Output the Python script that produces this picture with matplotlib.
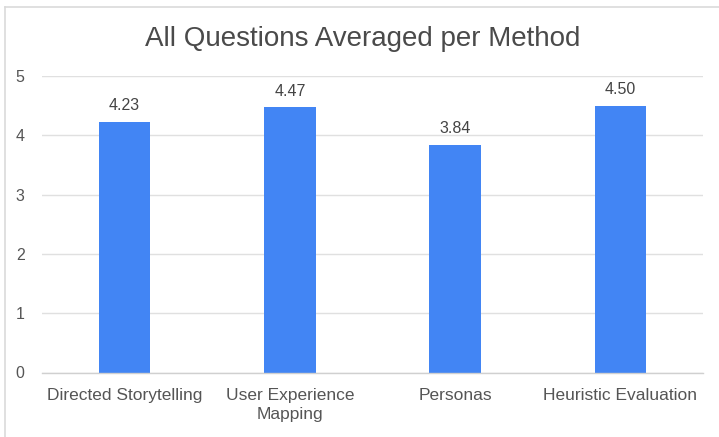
import matplotlib
matplotlib.use("Agg")
import matplotlib.pyplot as plt
from matplotlib.lines import Line2D

categories = ["Directed Storytelling", "User Experience\nMapping", "Personas", "Heuristic Evaluation"]
values = [4.23, 4.47, 3.84, 4.50]
value_labels = ["4.23", "4.47", "3.84", "4.50"]
yticks = [0, 1, 2, 3, 4, 5]
title = "All Questions Averaged per Method"

plt.rcParams['font.family'] = ['Liberation Sans', 'DejaVu Sans']

W, H = 719, 437
fig = plt.figure(figsize=(W / 100, H / 100), dpi=100)
ax = fig.add_axes([42 / W, 1 - 372.5 / H, (703 - 42) / W, (372.5 - 76) / H])

x = list(range(len(categories)))
ax.bar(x, values, width=0.312, color="#4285F4", zorder=3)
for xi, v, lab in zip(x, values, value_labels):
    ax.annotate(lab, (xi, v), xytext=(0, 6), textcoords="offset points",
                ha="center", va="bottom", fontsize=11.5, color="#444444")

ax.set_xlim(-0.5, len(categories) - 0.5)
ax.set_ylim(0, 5)
ax.set_yticks(yticks)
ax.set_yticklabels([str(t) for t in yticks])
ax.set_xticks(x)
ax.set_xticklabels(categories, linespacing=1.3)
ax.tick_params(axis="both", length=0, labelcolor="#555555")
ax.tick_params(axis="x", labelsize=12.5, pad=11.5)
ax.tick_params(axis="y", labelsize=11.5, pad=12.5)
ax.grid(axis="y", color="#e0e0e0", linewidth=1.0, zorder=0)
for s in ["top", "right", "left"]:
    ax.spines[s].set_visible(False)
ax.spines["bottom"].set_color("#d0d0d0")
ax.spines["bottom"].set_linewidth(1.0)
ax.spines["bottom"].set_zorder(4)

fig.text(363 / W, 1 - 39 / H, title, ha="center", va="center", fontsize=20, color="#4a4a4a")

# frame lines (top and left)
fig.add_artist(Line2D([5 / W, 1], [1 - 6.5 / H, 1 - 6.5 / H], color="#dadada", linewidth=1.2))
fig.add_artist(Line2D([5 / W, 5 / W], [0, 1 - 6.5 / H], color="#dadada", linewidth=1.2))

fig.savefig("out.png", dpi=100)
